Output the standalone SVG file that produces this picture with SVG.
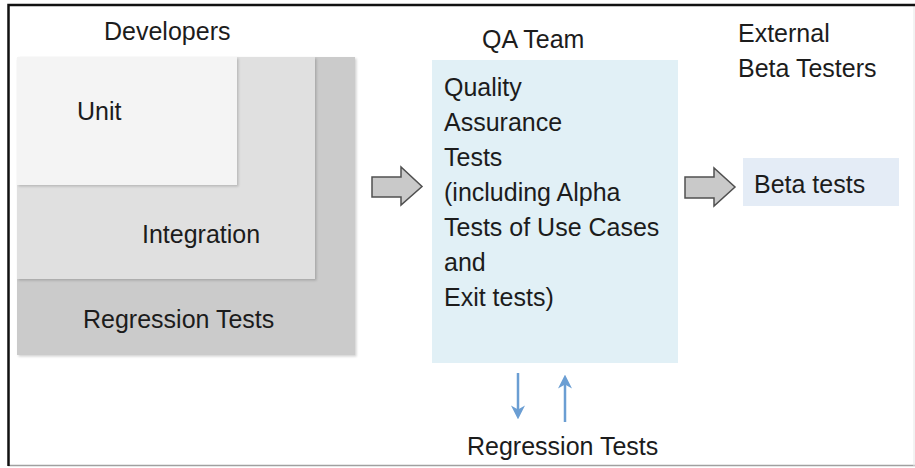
<svg xmlns="http://www.w3.org/2000/svg" width="915" height="468" viewBox="0 0 915 468">
  <defs>
    <filter id="sh" x="-5%" y="-5%" width="115%" height="115%">
      <feDropShadow dx="1.5" dy="1.5" stdDeviation="1" flood-color="#000" flood-opacity="0.18"/>
    </filter>
    <marker id="blueHead" viewBox="0 0 10 10" refX="4" refY="5" markerWidth="14" markerHeight="14" orient="auto" markerUnits="userSpaceOnUse">
      <path d="M0,0 L10,5 L0,10 L3,5 Z" fill="#6b9ed3"/>
    </marker>
  </defs>
  <style>
    text { font-family: "Liberation Sans", Arial, sans-serif; font-size: 25px; fill: #1c1c1c; }
    .bigarrow { fill: #c9c9c9; stroke: #505050; stroke-width: 1.5; stroke-linejoin: miter; }
    .blue { stroke: #6b9ed3; stroke-width: 2.5; fill: none; }
  </style>
  <rect x="0" y="0" width="915" height="468" fill="#ffffff"/>
  <g id="frame">
    <line x1="8" y1="465.5" x2="915" y2="465.5" stroke="#a0a0a0" stroke-width="1.5"/>
    <line x1="914" y1="5" x2="914" y2="466" stroke="#e6e6e6" stroke-width="1"/>
    <path d="M8.5,466 L8.5,5 L915,5" fill="none" stroke="#111" stroke-width="2.5"/>
  </g>

  <g id="developers">
    <text x="104" y="40">Developers</text>
    <g id="regression-box">
      <rect x="17" y="57" width="338" height="298" fill="#cbcbcb" filter="url(#sh)"/>
      <text x="83" y="328">Regression Tests</text>
    </g>
    <g id="integration-box">
      <rect x="17" y="57" width="298" height="222" fill="#e0e0e0" filter="url(#sh)"/>
      <text x="142" y="243">Integration</text>
    </g>
    <g id="unit-box">
      <rect x="17" y="57" width="220" height="128" fill="#f4f4f4" filter="url(#sh)"/>
      <text x="77" y="120">Unit</text>
    </g>
  </g>

  <g id="qa-team">
    <text x="482" y="48">QA Team</text>
    <rect x="432" y="60" width="246" height="303" fill="#e1f0f6"/>
    <text x="444" y="96">Quality</text>
    <text x="444" y="131">Assurance</text>
    <text x="444" y="166">Tests</text>
    <text x="444" y="201">(including Alpha</text>
    <text x="444" y="236">Tests of Use Cases</text>
    <text x="444" y="271">and</text>
    <text x="444" y="306">Exit tests)</text>
  </g>

  <g id="beta-testers">
    <text x="738" y="42">External</text>
    <text x="738" y="77">Beta Testers</text>
    <rect x="743" y="158" width="156" height="48" fill="#e4ecf6"/>
    <text x="754" y="193">Beta tests</text>
  </g>

  <g id="regression-qa">
    <text x="467" y="455">Regression Tests</text>
  </g>

  <g id="connectors">
    <path class="bigarrow" d="M372,177 L401,177 L401,167 L422,186.5 L401,205 L401,197 L372,197 Z"/>
    <path class="bigarrow" d="M685,177 L714,177 L714,168 L735,187 L714,206 L714,198 L685,198 Z"/>
    <line class="blue" x1="518" y1="373" x2="518" y2="411" marker-end="url(#blueHead)"/>
    <line class="blue" x1="565" y1="422" x2="565" y2="383" marker-end="url(#blueHead)"/>
  </g>
</svg>
